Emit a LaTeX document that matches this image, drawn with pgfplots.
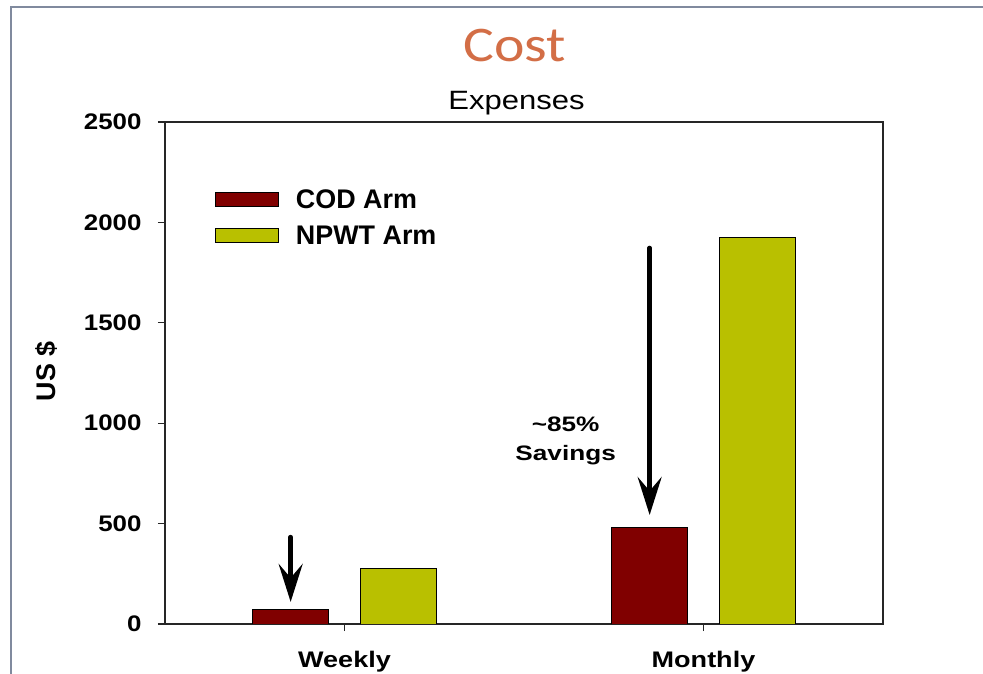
\documentclass[border=0pt]{standalone}
\usepackage{fontspec}
\setmainfont{Liberation Sans}
\newfontfamily\calibri{Carlito}
\usepackage{pgfplots}
\pgfplotsset{compat=1.18}
\usetikzlibrary{arrows.meta}
\definecolor{codred}{RGB}{128,0,0}
\definecolor{npwt}{RGB}{185,192,0}
\definecolor{titleorange}{RGB}{211,110,70}
\definecolor{slideborder}{RGB}{128,138,158}
\begin{document}
\begin{tikzpicture}
\useasboundingbox (-82.5bp,-25bp) rectangle (409bp,312bp);
\clip (-82.5bp,-25bp) rectangle (409bp,312bp);
\fill[white] (-82.5bp,-25bp) rectangle (409bp,312bp);
\draw[slideborder, line width=1bp] (-77bp,-30bp) -- (-77bp,308.5bp) -- (420bp,308.5bp);
\begin{axis}[
  at={(0,0)}, anchor=south west,
  scale only axis, width=359bp, height=251bp,
  xmin=-0.5, xmax=1.5, ymin=0, ymax=2500,
  ybar, bar width=0.212,
  xtick={0,1}, xticklabels={Weekly,Monthly},
  ytick={0,500,1000,1500,2000,2500},
  tick pos=left, tick align=outside,
  major tick length=3.5bp,
  axis line style={line width=0.8bp, black!85},
  tick style={line width=0.6bp, black!85},
  /pgf/number format/assume math mode=true,
  /pgf/number format/set thousands separator={},
  yticklabel style={font=\fontsize{11.3}{13}\selectfont\bfseries, inner sep=0pt, xshift=-8bp, xscale=1.15},
  xticklabel style={font=\fontsize{11.3}{13}\selectfont\bfseries, inner sep=0pt, yshift=-10bp, xscale=1.2},
  ylabel={US \$},
  ylabel style={font=\fontsize{13.5}{16}\selectfont\bfseries, at={(axis description cs:-0.1657,0.503)}, anchor=center},
  legend image code/.code={\draw[#1] (0bp,-4bp) rectangle (31.5bp,3bp);},
  legend cell align=left,
  legend style={draw=none, fill=none, inner sep=0pt, outer sep=0pt,
    at={(axis description cs:0.0696,0.8666)}, anchor=north west,
    row sep=7.55bp,
    nodes={inner sep=0pt, text height=10bp, text depth=0bp, font=\fontsize{13.5}{15}\selectfont\bfseries},
    /tikz/every odd column/.style={column sep=8.5bp}},
]
\addplot[bar shift=0pt, fill=codred, draw=black, line width=0.5bp] coordinates {(-0.15,70) (0.85,483)};
\addlegendentry{COD Arm}
\addplot[bar shift=0pt, fill=npwt, draw=black, line width=0.5bp] coordinates {(0.15,277) (1.15,1924)};
\addlegendentry{NPWT Arm}
\draw[line width=2.2bp, line cap=round, -{Stealth[length=19bp, width=12bp, inset=7bp]}] (axis cs:-0.15,433) -- (axis cs:-0.15,110);
\draw[line width=2.2bp, line cap=round, -{Stealth[length=19bp, width=12bp, inset=7bp]}] (axis cs:0.85,1873) -- (axis cs:0.85,543);
\node[font=\fontsize{10.5}{12}\selectfont\bfseries, anchor=base, xscale=1.25] at (axis cs:0.616,958) {\textasciitilde 85\%};
\node[font=\fontsize{10.5}{12}\selectfont\bfseries, anchor=base, xscale=1.25] at (axis cs:0.616,813) {Savings};
\end{axis}
\node[font={\calibri\fontsize{25}{30}\selectfont}, text=titleorange, anchor=base, xscale=1.16] at (175bp,281.15bp) {Cost};
\node[font=\fontsize{13.3}{16}\selectfont, anchor=base, xscale=1.17] at (175.75bp,257bp) {Expenses};
\end{tikzpicture}
\end{document}
